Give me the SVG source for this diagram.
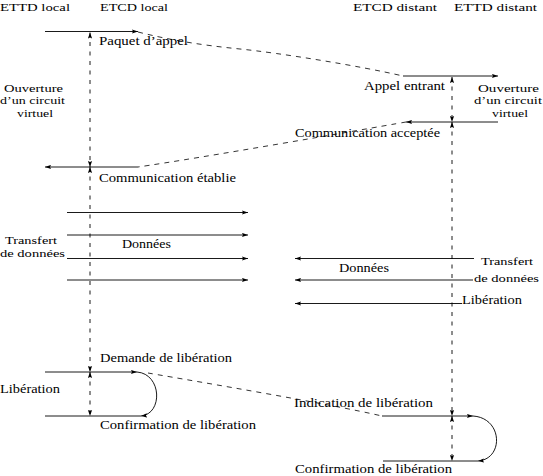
<svg xmlns="http://www.w3.org/2000/svg" width="543" height="476" viewBox="0 0 543 476">
<style>
text{font-family:"Liberation Serif","Times New Roman",serif;font-size:12px;fill:#000}
.sm{font-size:11.3px}
.ln{fill:none;stroke:#000;stroke-width:0.9}
.life{fill:none;stroke:#000;stroke-width:0.9;stroke-dasharray:4 5.5}
.dash{fill:none;stroke:#000;stroke-width:0.8;stroke-dasharray:5 5}
</style>
<defs>
<marker id="ah" markerUnits="userSpaceOnUse" markerWidth="6" markerHeight="5" viewBox="0 0 6 5" refX="6" refY="2.5" orient="auto-start-reverse">
<path d="M0,0.4 L6,2.5 L0,4.6 L1,2.5 Z" fill="#000" stroke="none"/>
</marker>
</defs>
<rect width="543" height="476" fill="#fff"/>

<g id="ettd-local"><text class="sm" x="0" y="10.5" textLength="70" lengthAdjust="spacingAndGlyphs">ETTD local</text></g>
<g id="etcd-local"><text class="sm" x="100" y="10.5" textLength="68" lengthAdjust="spacingAndGlyphs">ETCD local</text></g>
<g id="etcd-distant"><text class="sm" x="353" y="10.5" textLength="84" lengthAdjust="spacingAndGlyphs">ETCD distant</text></g>
<g id="ettd-distant"><text class="sm" x="454" y="10.5" textLength="83" lengthAdjust="spacingAndGlyphs">ETTD distant</text></g>

<g id="connectors">
<!-- lifelines -->
<path class="life" d="M90,32.5 V167" marker-start="url(#ah)" marker-end="url(#ah)"/>
<path class="life" d="M90,167 V372" marker-start="url(#ah)" marker-end="url(#ah)"/>
<path class="life" d="M90,372 V416" marker-start="url(#ah)" marker-end="url(#ah)"/>
<path class="life" d="M452,77 V122" marker-start="url(#ah)" marker-end="url(#ah)"/>
<path class="life" d="M452,122 V416" marker-start="url(#ah)" marker-end="url(#ah)"/>
<path class="life" d="M452,416 V461" marker-start="url(#ah)" marker-end="url(#ah)"/>
<!-- opening -->
<path class="ln" d="M45,31.5 H138" marker-end="url(#ah)"/>
<path class="dash" d="M138,32 C170,40 200,45 240,49 S360,66 403,76"/>
<path class="ln" d="M403,76 H498" marker-end="url(#ah)"/>
<path class="ln" d="M498,122 H406" marker-end="url(#ah)"/>
<path class="dash" d="M406,122 C360,130 200,158 138,167"/>
<path class="ln" d="M138,167 H45" marker-end="url(#ah)"/>
<!-- data -->
<path class="ln" d="M67,212.5 H248" marker-end="url(#ah)"/>
<path class="ln" d="M67,235 H248" marker-end="url(#ah)"/>
<path class="ln" d="M67,258.5 H248" marker-end="url(#ah)"/>
<path class="ln" d="M67,280 H248" marker-end="url(#ah)"/>
<path class="ln" d="M474,258.5 H295" marker-end="url(#ah)"/>
<path class="ln" d="M473,280 H295" marker-end="url(#ah)"/>
<path class="ln" d="M462,303.5 H295" marker-end="url(#ah)"/>
<!-- release -->
<path class="ln" d="M45,372 H137" marker-end="url(#ah)"/>
<path class="ln" d="M137,372 C162,374 163,414 141,416" marker-end="url(#ah)"/>
<path class="ln" d="M45,416 H141"/>
<path class="dash" d="M148,373 C200,382 330,404 382,416"/>
<path class="ln" d="M382,416 H473" marker-end="url(#ah)"/>
<path class="ln" d="M473,416 C503,418 504,459 478,461" marker-end="url(#ah)"/>
<path class="ln" d="M383,461 H478"/>
</g>

<g id="phase-open-left">
<text class="sm" x="4" y="91.5" textLength="59" lengthAdjust="spacingAndGlyphs">Ouverture</text>
<text class="sm" x="0" y="104.3" textLength="65" lengthAdjust="spacingAndGlyphs">d’un circuit</text>
<text class="sm" x="17" y="117" textLength="36" lengthAdjust="spacingAndGlyphs">virtuel</text>
</g>
<g id="phase-open-right">
<text class="sm" x="478" y="91.5" textLength="61" lengthAdjust="spacingAndGlyphs">Ouverture</text>
<text class="sm" x="474" y="104.3" textLength="68" lengthAdjust="spacingAndGlyphs">d’un circuit</text>
<text class="sm" x="492" y="117" textLength="36" lengthAdjust="spacingAndGlyphs">virtuel</text>
</g>
<g id="phase-data-left">
<text class="sm" x="5" y="244.2" textLength="52" lengthAdjust="spacingAndGlyphs">Transfert</text>
<text class="sm" x="0" y="257" textLength="65" lengthAdjust="spacingAndGlyphs">de données</text>
</g>
<g id="phase-data-right">
<text class="sm" x="481" y="265" textLength="52" lengthAdjust="spacingAndGlyphs">Transfert</text>
<text class="sm" x="474" y="282" textLength="65" lengthAdjust="spacingAndGlyphs">de données</text>
</g>
<g id="phase-release-left"><text x="0" y="393" textLength="60" lengthAdjust="spacingAndGlyphs">Libération</text></g>

<g id="labels">
<text x="99" y="44.5" textLength="89" lengthAdjust="spacingAndGlyphs">Paquet d’appel</text>
<text x="364" y="90" textLength="81" lengthAdjust="spacingAndGlyphs">Appel entrant</text>
<text x="295" y="137" textLength="145" lengthAdjust="spacingAndGlyphs">Communication acceptée</text>
<text x="99" y="182" textLength="137" lengthAdjust="spacingAndGlyphs">Communication établie</text>
<text x="122" y="248" textLength="49" lengthAdjust="spacingAndGlyphs">Données</text>
<text x="339" y="272" textLength="50" lengthAdjust="spacingAndGlyphs">Données</text>
<text x="462" y="304" textLength="60" lengthAdjust="spacingAndGlyphs">Libération</text>
<text x="100" y="362" textLength="132" lengthAdjust="spacingAndGlyphs">Demande de libération</text>
<text x="100" y="429" textLength="156" lengthAdjust="spacingAndGlyphs">Confirmation de libération</text>
<text x="294" y="407" textLength="139" lengthAdjust="spacingAndGlyphs">Indication de libération</text>
<text x="295" y="473" textLength="157" lengthAdjust="spacingAndGlyphs">Confirmation de libération</text>
</g>
</svg>
